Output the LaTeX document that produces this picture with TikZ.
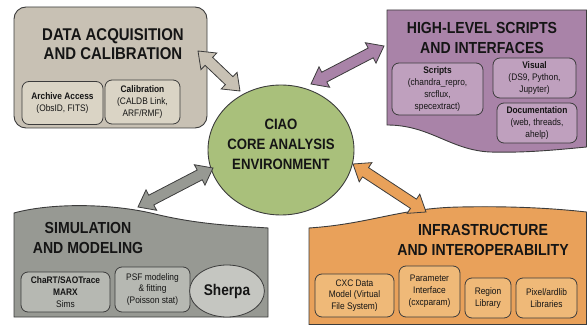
\documentclass[tikz,border=0pt]{standalone}
\usepackage{fontspec}
\setmainfont{Liberation Sans}[FakeStretch=0.88]
\usetikzlibrary{calc,shapes.geometric}

\definecolor{tanbg}{HTML}{C8C1B4}
\definecolor{tansub}{HTML}{DAD4C5}
\definecolor{purbg}{HTML}{A983A8}
\definecolor{pursub}{HTML}{BFA0BE}
\definecolor{grnbg}{HTML}{A9C07B}
\definecolor{grybg}{HTML}{979993}
\definecolor{grysub}{HTML}{B6B8B2}
\definecolor{orabg}{HTML}{E9A15A}
\definecolor{orasub}{HTML}{EFB978}
\definecolor{edge}{HTML}{3C3C3C}
\definecolor{ink}{HTML}{151515}

\newcommand\cftitle{\fontsize{16}{19.5}\selectfont\bfseries}
\newcommand\cfsub{\fontsize{9.5}{11.8}\selectfont}

% fat two-headed arrow between two named points
\newcommand\fatarrow[3]{%
  \coordinate (ha) at ($(#1)!15pt!(#2)$);
  \coordinate (hb) at ($(#2)!15pt!(#1)$);
  \draw[arrowline,fill=#3] (#1) -- ($(ha)!11.5pt!90:(#2)$) -- ($(ha)!5.5pt!90:(#2)$)
    -- ($(hb)!5.5pt!-90:(#1)$) -- ($(hb)!11.5pt!-90:(#1)$) -- (#2)
    -- ($(hb)!11.5pt!90:(#1)$) -- ($(hb)!5.5pt!90:(#1)$)
    -- ($(ha)!5.5pt!-90:(#2)$) -- ($(ha)!11.5pt!-90:(#2)$) -- cycle;}

\tikzset{
  panel/.style={draw=edge, line width=0.9pt},
  arrowline/.style={draw=edge, line width=0.8pt, line join=miter},
  heading/.style={font=\cftitle, align=center, text=ink},
  subbox/.style={draw=edge, line width=0.8pt, rounded corners=7pt, align=center,
    font=\cfsub, text=ink, inner sep=1pt},
}

\begin{document}
\begin{tikzpicture}[x=1pt,y=-1pt]
\useasboundingbox (0,0) rectangle (587,326);

% ---- data acquisition and calibration
\node[panel, fill=tanbg, rounded corners=12pt, minimum width=193, minimum height=121] (acq) at (110.5,67.5) {};
\node[heading, font=\fontsize{17}{19}\selectfont\bfseries] (acqT) at (113,44) {DATA ACQUISITION\\AND CALIBRATION};
\node[subbox, fill=tansub, minimum width=81, minimum height=43] (arch) at (62.5,103) {\textbf{Archive Access}\\(ObsID, FITS)};
\node[subbox, fill=tansub, minimum width=75, minimum height=44] (cal) at (142.5,102) {\textbf{Calibration}\\(CALDB Link,\\ARF/RMF)};

% ---- high-level scripts and interfaces
\draw[panel, fill=purbg] (387,10) -- (586.5,10) -- (586.5,147)
  .. controls (555,150) and (525,153) .. (490,152)
  .. controls (450,150) and (430,125) .. (387,125) -- cycle;
\node[heading] (hlT) at (482,38) {HIGH-LEVEL SCRIPTS\\AND INTERFACES};
\node[subbox, fill=pursub, minimum width=91, minimum height=52] (scr) at (437.5,89) {\textbf{Scripts}\\(chandra\_repro,\\srcflux,\\specextract)};
\node[subbox, fill=pursub, minimum width=83, minimum height=40] (vis) at (534.5,78) {\textbf{Visual}\\(DS9, Python,\\Jupyter)};
\node[subbox, fill=pursub, minimum width=80, minimum height=40] (doc) at (537,123) {\textbf{Documentation}\\(web, threads,\\ahelp)};

% ---- simulation and modeling
\draw[panel, fill=grybg] (14,213)
  .. controls (50,203) and (110,203) .. (155,214)
  .. controls (200,225) and (240,226) .. (268,228)
  -- (268,317) -- (14,317) -- cycle;
\node[heading] (simT) at (88,238) {SIMULATION\\AND MODELING};
\node[subbox, fill=grysub, minimum width=89, minimum height=40] (chart) at (65.5,292) {\textbf{ChaRT/SAOTrace}\\\textbf{MARX}\\Sims};
\node[subbox, fill=grysub, minimum width=75, minimum height=45] (psf) at (152.5,289.5) {PSF modeling\\\& fitting\\(Poisson stat)};
\node[draw=edge, line width=0.8pt, ellipse, fill=grysub!80!white, minimum width=66, minimum height=52,
  font=\fontsize{15.5}{18}\selectfont\bfseries, text=ink] (sherpa) at (227,291) {Sherpa};

% ---- infrastructure and interoperability
\draw[panel, fill=orabg] (309,228)
  .. controls (370,224) and (400,208) .. (460,207)
  .. controls (510,206) and (550,208) .. (586.5,212)
  -- (586.5,324.5) -- (309,324.5) -- cycle;
\node[heading] (infT) at (483,240) {INFRASTRUCTURE\\AND INTEROPERABILITY};
\node[subbox, fill=orasub, minimum width=79, minimum height=43] (cxc) at (354.5,295.5) {CXC Data\\Model (Virtual\\File System)};
\node[subbox, fill=orasub, minimum width=61, minimum height=51] (par) at (429.5,291.5) {Parameter\\Interface\\(cxcparam)};
\node[subbox, fill=orasub, minimum width=46, minimum height=40] (reg) at (488,298) {Region\\Library};
\node[subbox, fill=orasub, minimum width=61, minimum height=40] (pix) at (546.5,298) {Pixel/ardlib\\Libraries};

% ---- core environment
\node[draw=edge, line width=0.9pt, ellipse, fill=grnbg, minimum width=146, minimum height=130] (core) at (281,150) {};
\node[font=\fontsize{15}{20}\selectfont\bfseries, align=center, text=ink] (coreT) at (281,144) {CIAO\\CORE ANALYSIS\\ENVIRONMENT};

% ---- links between the core and each area
\coordinate (acqEnd) at (198,51);
\coordinate (coreNW) at (240,91);
\coordinate (coreNE) at (311,84);
\coordinate (hlEnd) at (384,46);
\coordinate (simEnd) at (138,207);
\coordinate (coreSW) at (213,168);
\coordinate (coreSE) at (353,164);
\coordinate (infEnd) at (426,212);

\fatarrow{acqEnd}{coreNW}{tanbg}
\fatarrow{coreNE}{hlEnd}{purbg}
\fatarrow{simEnd}{coreSW}{grybg}
\fatarrow{coreSE}{infEnd}{orabg}
\end{tikzpicture}
\end{document}
